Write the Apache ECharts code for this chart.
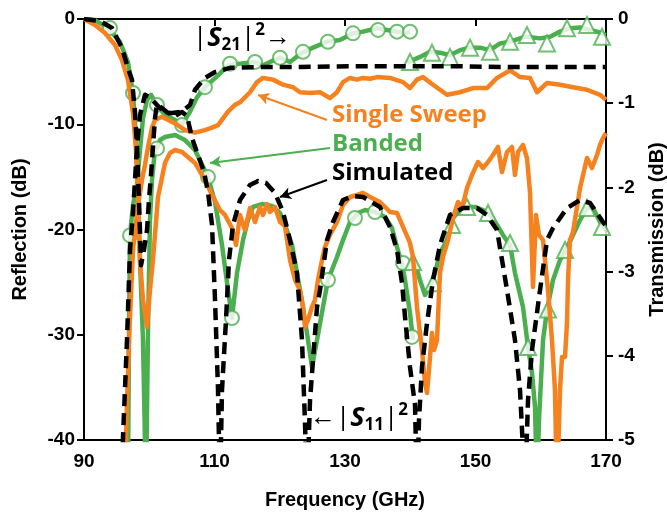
<!DOCTYPE html>
<html>
<head>
<meta charset="utf-8">
<script src="https://cdn.jsdelivr.net/npm/echarts@6/dist/echarts.min.js"></script>
<style>
  html, body { margin: 0; padding: 0; background: #fff; }
  #chart { width: 667px; height: 518px; }
</style>
</head>
<body>
<div id="chart"></div>
<script>
// x ticks / axis ranges
var freqTicks = [90, 110, 130, 150, 170];
var reflTicks = [-40, -30, -20, -10, 0];
var transTicks = [-5, -4, -3, -2, -1, 0];

// Simulated |S11|^2 (reflection, dB)
var simS11 = [[90,0],[92.45,-0.2],[94.29,-0.86],[95.82,-2.76],[96.74,-4.66],[97.36,-5.8],[97.82,-8.93],[98.12,-12.16],[98.43,-17.2],[98.74,-23.4],[99.2,-21.9],[99.66,-20.05],[99.96,-17.2],[100.27,-14.8],[100.57,-12.16],[100.88,-9.41],[101.19,-8.1],[101.95,-8.46],[102.87,-8.93],[103.95,-9.22],[104.71,-8.93],[105.02,-8.84],[105.79,-9.22],[106.55,-11.31],[107.47,-12.92],[108.39,-14.54],[109.0,-16.44],[109.62,-19.57],[110.08,-26.7],[110.54,-35.25],[110.84,-45],[111.15,-35.25],[111.76,-28.6],[112.22,-22.9],[112.84,-19.57],[113.91,-17.2],[115.44,-15.77],[116.67,-15.39],[117.89,-15.58],[119.27,-16.53],[120.5,-18.34],[121.57,-21.01],[122.64,-24.13],[123.41,-30.5],[123.87,-38.38],[124.18,-45],[124.64,-36.2],[125.1,-32.4],[125.71,-27.36],[126.17,-25.75],[127.24,-21.01],[128.16,-19.29],[129.69,-17.2],[131.23,-16.82],[132.76,-16.91],[135.36,-17.86],[136.9,-19.76],[137.97,-21.95],[138.74,-25.08],[139.2,-28.31],[139.96,-33.06],[140.73,-36.67],[141.03,-45],[141.34,-38.1],[141.8,-33.06],[142.57,-28.88],[143.49,-24.8],[144.56,-21.47],[146.09,-18.62],[148.08,-17.96],[150.23,-17.96],[151.76,-18.62],[153.3,-20.05],[153.76,-21.76],[154.83,-25.75],[156.05,-30.5],[156.82,-35.25],[157.13,-39.05],[157.59,-45],[158.05,-36.2],[158.66,-31.45],[159.89,-25.75],[160.96,-21.01],[161.88,-19.86],[164.02,-17.96],[166.02,-17.2],[167.55,-17.48],[169.54,-19.29],[170,-19.67]];

// Simulated |S21|^2 (transmission, dB)
var simS21 = [[95.82,-5.5],[95.98,-4.96],[96.59,-3.81],[97.05,-2.74],[97.51,-2.3],[97.82,-1.91],[98.12,-1.52],[98.58,-1.14],[99.35,-0.9],[100.11,-0.93],[101.65,-1.06],[103.18,-1.12],[105.02,-1.1],[106.25,-1.02],[107.01,-0.84],[108.54,-0.7],[110.08,-0.63],[112.38,-0.58],[116.97,-0.57],[123.1,-0.57],[130.77,-0.56],[138.43,-0.56],[146.09,-0.56],[153.76,-0.57],[161.42,-0.57],[170,-0.57]];

// Banded measurement, band 1 (circles) and band 2 (triangles)
var bandS11a = [[90,0],[91.69,-0.1],[93.68,-0.86],[95.52,-2.19],[96.74,-4.09],[97.51,-7.03],[97.97,-11.5],[98.28,-16.91],[98.58,-22.9],[99.04,-30.5],[99.5,-45],[99.81,-29.55],[100.11,-19.1],[100.42,-15.3],[100.88,-12.45],[101.19,-12.3],[101.65,-11.5],[102.41,-11.21],[103.95,-11.02],[105.48,-11.5],[107.01,-12.45],[109.0,-15.01],[110.08,-17.39],[111.15,-21.47],[112.07,-25.75],[112.68,-28.41],[113.45,-24.13],[114.37,-21.01],[115.13,-19.1],[115.9,-17.86],[117.28,-17.58],[118.81,-17.77],[120.04,-18.43],[120.8,-19.57],[121.88,-21.47],[122.64,-24.13],[123.56,-27.36],[124.33,-30.5],[124.94,-33.06],[125.71,-30.5],[126.63,-27.36],[127.39,-24.8],[128.77,-22.61],[129.69,-21.01],[130.77,-19.29],[132.0,-18.43],[133.07,-18.15],[134.6,-18.34],[136.13,-18.81],[137.2,-19.86],[137.97,-21.66],[138.74,-23.37],[139.2,-24.8],[139.96,-27.93],[140.42,-30.5]];
var bandS21a = [[96.74,-5.5],[96.9,-3.69],[97.05,-2.57],[97.51,-2.21],[98.12,-1.97],[98.58,-1.56],[99.04,-1.18],[99.66,-0.96],[100.27,-0.9],[101.19,-1.02],[102.41,-1.14],[103.95,-1.2],[105.02,-1.26],[106.25,-1.1],[107.32,-0.93],[108.54,-0.81],[110.54,-0.67],[112.07,-0.55],[113.91,-0.53],[116.21,-0.51],[117.43,-0.55],[118.51,-0.51],[120.04,-0.46],[121.57,-0.51],[123.41,-0.4],[125.1,-0.34],[127.24,-0.27],[129.23,-0.25],[131.23,-0.17],[132.76,-0.15],[134.9,-0.11],[136.44,-0.13],[137.97,-0.15],[139.2,-0.17],[139.96,-0.15]];
var bandS11b = [[140.42,-22.61],[141.49,-24.8],[142.26,-26.22],[143.03,-25.46],[143.79,-24.13],[144.56,-22.23],[145.63,-21.01],[146.55,-18.91],[147.62,-18.15],[148.7,-17.86],[149.92,-17.86],[151.15,-18.15],[152.22,-18.62],[153.3,-19.57],[154.21,-20.52],[155.29,-21.47],[156.05,-24.13],[157.28,-27.36],[158.05,-31.16],[158.66,-33.63],[159.12,-36.86],[159.43,-45],[159.73,-38.1],[160.04,-34.3],[160.35,-30.5],[160.96,-27.65],[161.88,-24.8],[162.95,-22.9],[164.02,-21.76],[164.94,-20.52],[166.02,-19.1],[167.09,-17.96],[168.01,-17.96],[169.08,-19.29],[170,-20.05]];
var bandS21b = [[139.5,-0.52],[141.49,-0.45],[143.03,-0.39],[144.56,-0.4],[146.09,-0.43],[147.62,-0.37],[149.16,-0.34],[150.69,-0.34],[152.22,-0.37],[153.76,-0.29],[155.29,-0.27],[156.82,-0.23],[157.89,-0.21],[159.89,-0.23],[161.42,-0.21],[162.95,-0.15],[164.48,-0.11],[166.02,-0.1],[167.55,-0.13],[168.62,-0.15],[170,-0.19]];

// marker positions on the banded curves
var circS11 = [[93.98,-0.86],[97.51,-7.03],[101.19,-12.3],[109.0,-15.01],[112.68,-28.41],[127.39,-24.8],[131.53,-18.91],[134.6,-18.34],[138.89,-23.18],[140.27,-30.21]];
var circS21 = [[97.05,-2.57],[101.19,-1.02],[105.02,-1.26],[108.54,-0.81],[112.38,-0.53],[116.21,-0.51],[120.04,-0.46],[123.56,-0.39],[127.39,-0.27],[131.23,-0.17],[135.06,-0.13],[137.97,-0.15],[139.96,-0.15]];
var triS11 = [[140.42,-23.09],[143.49,-25.1],[146.4,-19.57],[148.7,-17.86],[151.92,-18.43],[155.29,-21.28],[158.05,-31.16],[161.11,-27.6],[163.72,-21.95],[167.09,-17.96],[169.39,-19.76]];
var triS21 = [[139.96,-0.51],[143.33,-0.4],[146.09,-0.45],[149.16,-0.34],[152.22,-0.39],[155.29,-0.27],[157.89,-0.19],[160.96,-0.29],[164.02,-0.11],[167.09,-0.07],[169.39,-0.21]];

// Single sweep measurement
var sweepS11 = [[90,0],[91.69,-0.57],[93.22,-1.33],[94.75,-2.47],[95.82,-3.9],[96.74,-5.8],[97.51,-8.93],[97.97,-12.45],[98.28,-17.2],[98.58,-22.9],[99.04,-26.7],[99.66,-29.26],[100.11,-25.75],[100.57,-22.9],[101.34,-16.91],[102.41,-13.68],[103.18,-12.73],[103.95,-12.45],[105.02,-12.64],[107.01,-13.68],[108.54,-15.3],[109.62,-16.72],[110.84,-18.15],[111.61,-18.62],[112.68,-19.86],[113.3,-21.47],[113.91,-18.62],[114.67,-20.05],[115.44,-17.96],[116.21,-19.29],[116.97,-17.86],[117.43,-18.62],[118.05,-17.58],[118.51,-18.34],[119.27,-17.86],[120.04,-19.29],[120.8,-19.67],[121.57,-22.9],[122.34,-24.8],[123.1,-25.75],[123.56,-27.36],[123.87,-29.26],[124.33,-28.6],[124.94,-27.36],[125.4,-26.7],[125.86,-24.8],[126.48,-22.9],[126.93,-21.66],[127.7,-20.52],[128.77,-19.29],[129.69,-17.67],[130.77,-16.91],[131.84,-16.72],[132.76,-16.53],[133.83,-16.91],[135.36,-17.39],[136.9,-18.34],[137.97,-18.43],[138.89,-19.76],[139.96,-21.28],[140.42,-22.61],[141.03,-27.36],[141.8,-31.45],[142.26,-34.58],[142.57,-35.53],[143.03,-32.11],[143.33,-29.83],[143.64,-31.45],[144.1,-30.5],[144.56,-24.13],[145.02,-22.61],[145.79,-21.01],[146.55,-18.91],[147.32,-17.39],[147.93,-17.96],[148.7,-16.06],[149.46,-14.82],[150.38,-13.59],[151.15,-14.16],[151.92,-13.59],[152.68,-12.92],[153.45,-12.16],[154.06,-14.54],[154.83,-12.64],[155.59,-12.16],[156.05,-14.82],[156.51,-12.64],[157.28,-11.97],[157.89,-13.21],[158.35,-16.44],[158.81,-25.46],[159.27,-18.62],[159.73,-20.52],[160.35,-21.01],[161.11,-25.75],[161.72,-30.5],[162.18,-35.25],[162.49,-45],[162.95,-35.25],[163.26,-32.11],[163.72,-32.11],[164.02,-28.88],[164.18,-24.8],[164.48,-21.01],[164.94,-20.24],[166.02,-16.06],[167.09,-13.21],[167.85,-14.16],[168.62,-12.92],[169.08,-11.97],[169.54,-11.31],[170,-10.83]];
var sweepS21 = [[96.28,-5.5],[96.44,-4.96],[96.9,-3.81],[97.51,-2.74],[98.28,-2.21],[98.89,-1.91],[99.35,-1.73],[99.81,-1.52],[100.42,-1.29],[100.88,-1.2],[101.95,-1.16],[103.95,-1.24],[105.48,-1.32],[107.01,-1.35],[108.54,-1.32],[109.62,-1.29],[110.54,-1.26],[112.07,-1.1],[113.14,-1.02],[113.91,-0.99],[115.44,-0.87],[116.51,-0.75],[117.43,-0.7],[118.97,-0.72],[120.5,-0.78],[122.03,-0.81],[123.1,-0.87],[124.64,-0.88],[126.17,-0.87],[127.7,-0.94],[128.77,-0.87],[129.69,-0.75],[130.77,-0.7],[131.84,-0.72],[132.76,-0.7],[133.83,-0.71],[134.9,-0.69],[136.9,-0.7],[138.89,-0.75],[139.96,-0.82],[141.03,-0.72],[141.95,-0.69],[143.49,-0.78],[144.56,-0.84],[145.63,-0.9],[147.62,-0.87],[149.62,-0.82],[151.76,-0.82],[153.3,-0.7],[155.29,-0.61],[156.82,-0.69],[158.35,-0.7],[159.43,-0.87],[160.96,-0.76],[162.95,-0.78],[164.94,-0.81],[167.09,-0.84],[169.08,-0.9],[170,-0.96]];

// annotation arrows (tail -> head, in freq / reflection dB)
var arrowSweep = [[127.24, -9.6], [116.67, -7.22]];
var arrowBand = [[127.7, -12.26], [109.31, -13.68]];
var arrowSim = [[127.24, -15.3], [120.04, -16.91]];

var GREEN = '#4caf4f';
var ORANGE = '#f5821f';
var BLACK = '#000';
var LW = 4.5;

var chart = echarts.init(document.getElementById('chart'));

function lineSeries(data, color, yIdx, dashed, z) {
	return {
		type: 'line',
		data: data,
		yAxisIndex: yIdx,
		showSymbol: false,
		symbol: 'none',
		clip: true,
		z: z,
		lineStyle: {
			color: color,
			width: LW,
			type: dashed ? [12, 7] : 'solid',
			cap: 'butt',
			join: 'round'
		},
		animation: false
	};
}

function markerSeries(data, shape, size, yIdx) {
	return {
		type: 'scatter',
		data: data,
		yAxisIndex: yIdx,
		symbol: shape,
		symbolSize: size,
		z: 4,
		itemStyle: { color: '#fff', borderColor: GREEN, borderWidth: 2 },
		animation: false
	};
}

function arrow(pts, color) {
	return {
		silent: true,
		symbol: ['none', 'arrow'],
		symbolSize: [9, 11],
		label: { show: false },
		lineStyle: { color: color, width: 2, type: 'solid' },
		data: [[{ coord: pts[0] }, { coord: pts[1] }]]
	};
}

var tickFont = { fontFamily: 'Liberation Sans', fontWeight: 'bold', fontSize: 19, color: '#000' };
var titleFont = { fontFamily: 'Liberation Sans', fontWeight: 'bold', fontSize: 20, color: '#000' };

function richLabel() {
	return {
		n: { fontSize: 26, fontFamily: 'Open Sans', color: '#000', lineHeight: 32 },
		s: { fontSize: 27, fontFamily: 'Open Sans', fontStyle: 'italic', fontWeight: 'bold', color: '#000', lineHeight: 32 },
		sub: { fontSize: 17, fontFamily: 'Open Sans', fontWeight: 'bold', color: '#000', verticalAlign: 'bottom', lineHeight: 17 },
		sup: { fontSize: 17, fontFamily: 'Open Sans', fontWeight: 'bold', color: '#000', verticalAlign: 'top', lineHeight: 17 }
	};
}

var option = {
	animation: false,
	backgroundColor: '#fff',
	grid: {
		left: 84, right: 61, top: 19, bottom: 78,
		outerBoundsMode: 'none',
		containLabel: false,
		show: true, borderColor: '#000', borderWidth: 2
	},
	xAxis: {
		type: 'value',
		min: freqTicks[0], max: freqTicks[freqTicks.length - 1], interval: 20,
		name: 'Frequency (GHz)', nameLocation: 'middle', nameGap: 50,
		nameTextStyle: titleFont,
		axisLine: { lineStyle: { color: '#000', width: 2 } },
		axisTick: { length: 7, lineStyle: { color: '#000', width: 2 } },
		axisLabel: Object.assign({ margin: 12 }, tickFont),
		splitLine: { show: false }
	},
	yAxis: [{
		type: 'value', position: 'left',
		min: reflTicks[0], max: reflTicks[reflTicks.length - 1], interval: 10,
		name: 'Reflection (dB)', nameLocation: 'middle', nameGap: 54, nameRotate: 90,
		nameTextStyle: titleFont,
		axisLine: { show: true, lineStyle: { color: '#000', width: 2 } },
		axisTick: { show: true, length: 7, lineStyle: { color: '#000', width: 2 } },
		axisLabel: Object.assign({ margin: 9 }, tickFont),
		splitLine: { show: false }
	}, {
		type: 'value', position: 'right',
		min: transTicks[0], max: transTicks[transTicks.length - 1], interval: 1,
		name: 'Transmission (dB)', nameLocation: 'middle', nameGap: 41, nameRotate: 90,
		nameTextStyle: titleFont,
		axisLine: { show: true, lineStyle: { color: '#000', width: 2 } },
		axisTick: { show: true, length: 7, lineStyle: { color: '#000', width: 2 } },
		axisLabel: Object.assign({ margin: 12 }, tickFont),
		splitLine: { show: false }
	}],
	series: [
		lineSeries(bandS11a, GREEN, 0, false, 2),
		lineSeries(bandS11b, GREEN, 0, false, 2),
		lineSeries(bandS21a, GREEN, 1, false, 2),
		lineSeries(bandS21b, GREEN, 1, false, 2),
		markerSeries(circS11, 'circle', 14, 0),
		markerSeries(circS21, 'circle', 14, 1),
		markerSeries(triS11, 'triangle', 16, 0),
		markerSeries(triS21, 'triangle', 16, 1),
		lineSeries(sweepS11, ORANGE, 0, false, 5),
		lineSeries(sweepS21, ORANGE, 1, false, 5),
		lineSeries(simS11, BLACK, 0, true, 6),
		lineSeries(simS21, BLACK, 1, true, 6),
		{ type: 'line', data: [], yAxisIndex: 0, markLine: arrow(arrowSweep, ORANGE) },
		{ type: 'line', data: [], yAxisIndex: 0, markLine: arrow(arrowBand, GREEN) },
		{ type: 'line', data: [], yAxisIndex: 0, markLine: arrow(arrowSim, BLACK) }
	],
	graphic: [
		{ type: 'text', left: 332, top: 103, z: 100,
		  style: { text: 'Single Sweep', fill: ORANGE, font: 'bold 24px "Open Sans"' } },
		{ type: 'text', left: 332, top: 132, z: 100,
		  style: { text: 'Banded', fill: GREEN, font: 'bold 24px "Open Sans"' } },
		{ type: 'text', left: 332, top: 161, z: 100,
		  style: { text: 'Simulated', fill: '#000', font: 'bold 24px "Open Sans"' } },
		{ type: 'text', left: 193, top: 22, z: 100,
		  style: { text: '{n||}{s|S}{sub|21}{n||}{sup|2}{n|→}', rich: richLabel() } },
		{ type: 'text', left: 310, top: 402, z: 100,
		  style: { text: '{n|←|}{s|S}{sub|11}{n||}{sup|2}', rich: richLabel() } }
	]
};

chart.setOption(option);
</script>
</body>
</html>
